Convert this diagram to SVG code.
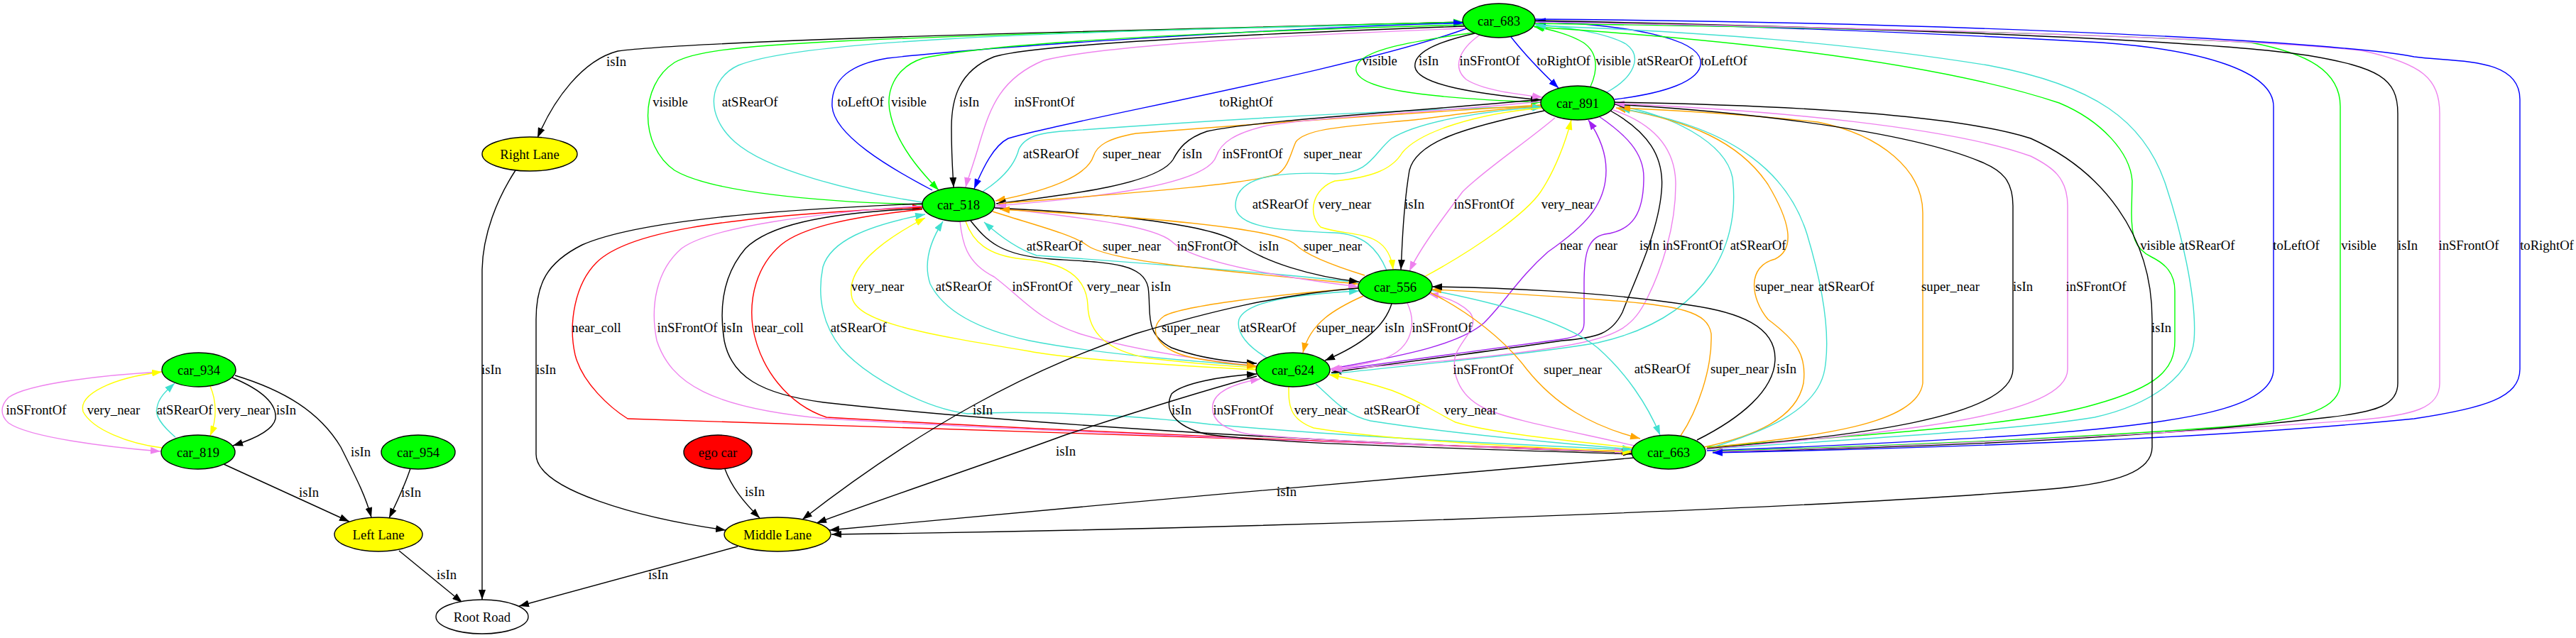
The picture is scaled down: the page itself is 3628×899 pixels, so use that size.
<svg xmlns="http://www.w3.org/2000/svg" width="3628" height="899" viewBox="0 0 3628 899">
<style>
.e{fill:none;stroke-width:1.4}
.k{stroke:#000;marker-end:url(#ak)}
.g{stroke:#00ff00;marker-end:url(#ag)}
.t{stroke:#40e0d0;marker-end:url(#at)}
.b{stroke:#0000ff;marker-end:url(#ab)}
.v{stroke:#ee82ee;marker-end:url(#av)}
.o{stroke:#ffa500;marker-end:url(#ao)}
.y{stroke:#ffff00;marker-end:url(#ay)}
.r{stroke:#ff0000;marker-end:url(#ar)}
.p{stroke:#a020f0;marker-end:url(#ap)}
ellipse{stroke:#000;stroke-width:1.4}
.car{fill:#00ff00}
.lane{fill:#ffff00}
text{font-family:"Liberation Serif","Times New Roman",serif;font-size:18.67px;text-anchor:middle;fill:#000}
</style>
<defs>
<marker id="ak" viewBox="0 0 14 10" refX="14" refY="5" markerWidth="14" markerHeight="10" markerUnits="userSpaceOnUse" orient="auto"><path d="M0,0L14,5L0,10z" fill="#000"/></marker>
<marker id="ag" viewBox="0 0 14 10" refX="14" refY="5" markerWidth="14" markerHeight="10" markerUnits="userSpaceOnUse" orient="auto"><path d="M0,0L14,5L0,10z" fill="#00ff00"/></marker>
<marker id="at" viewBox="0 0 14 10" refX="14" refY="5" markerWidth="14" markerHeight="10" markerUnits="userSpaceOnUse" orient="auto"><path d="M0,0L14,5L0,10z" fill="#40e0d0"/></marker>
<marker id="ab" viewBox="0 0 14 10" refX="14" refY="5" markerWidth="14" markerHeight="10" markerUnits="userSpaceOnUse" orient="auto"><path d="M0,0L14,5L0,10z" fill="#0000ff"/></marker>
<marker id="av" viewBox="0 0 14 10" refX="14" refY="5" markerWidth="14" markerHeight="10" markerUnits="userSpaceOnUse" orient="auto"><path d="M0,0L14,5L0,10z" fill="#ee82ee"/></marker>
<marker id="ao" viewBox="0 0 14 10" refX="14" refY="5" markerWidth="14" markerHeight="10" markerUnits="userSpaceOnUse" orient="auto"><path d="M0,0L14,5L0,10z" fill="#ffa500"/></marker>
<marker id="ay" viewBox="0 0 14 10" refX="14" refY="5" markerWidth="14" markerHeight="10" markerUnits="userSpaceOnUse" orient="auto"><path d="M0,0L14,5L0,10z" fill="#ffff00"/></marker>
<marker id="ar" viewBox="0 0 14 10" refX="14" refY="5" markerWidth="14" markerHeight="10" markerUnits="userSpaceOnUse" orient="auto"><path d="M0,0L14,5L0,10z" fill="#ff0000"/></marker>
<marker id="ap" viewBox="0 0 14 10" refX="14" refY="5" markerWidth="14" markerHeight="10" markerUnits="userSpaceOnUse" orient="auto"><path d="M0,0L14,5L0,10z" fill="#a020f0"/></marker>
</defs>
<rect width="3628" height="899" fill="#fff"/>
<g id="connectors">
<path class="e k" d="M2060,31 C1700,40 1000,55 870,72 C820,85 780,140 757,194"/>
<path class="e g" d="M1300,288 C1150,285 1000,270 950,240 C900,205 900,120 950,88 C1000,60 1150,55 2061,31"/>
<path class="e t" d="M1299,285 C1200,270 1080,240 1035,200 C990,160 1000,110 1040,92 C1120,60 1400,45 2061,33"/>
<path class="e b" d="M1313,268 C1250,235 1175,190 1172,150 C1170,110 1200,90 1250,82 C1400,65 1800,40 2061,32"/>
<path class="e g" d="M2061,35 C1700,45 1400,60 1300,82 C1260,95 1245,130 1255,165 C1265,205 1295,240 1322,268"/>
<path class="e k" d="M2062,37 C1700,50 1450,65 1400,80 C1350,100 1340,140 1340,180 C1340,220 1342,245 1343,264"/>
<path class="e v" d="M2063,40 C1800,50 1550,65 1470,85 C1410,110 1395,150 1380,200 C1370,235 1362,255 1360,264"/>
<path class="e b" d="M2066,40 C1900,100 1500,170 1420,195 C1400,205 1385,235 1372,266"/>
<path class="e g" d="M2075,46 C1990,58 1915,70 1910,95 C1905,125 2000,138 2170,144"/>
<path class="e k" d="M2077,47 C2020,60 1990,75 1993,95 C1998,120 2080,132 2170,141"/>
<path class="e v" d="M2083,50 C2055,70 2045,95 2065,112 C2090,128 2140,133 2172,137"/>
<path class="e b" d="M2128,52 C2150,80 2175,105 2195,124"/>
<path class="e g" d="M2240,122 C2250,100 2252,75 2230,60 C2210,48 2185,42 2160,37"/>
<path class="e t" d="M2263,130 C2300,110 2315,80 2290,62 C2260,45 2200,38 2162,34"/>
<path class="e b" d="M2274,140 C2340,132 2400,115 2395,85 C2390,55 2300,35 2162,30"/>
<path class="e g" d="M2404,630 C2600,615 2850,600 2950,570 C3040,545 3063,520 3063,480 L3063,410 C3063,385 3050,372 3030,362 C3005,350 3002,330 3002,300 L3003,255 C3000,215 2960,170 2900,145 C2750,95 2500,60 2161,38"/>
<path class="e t" d="M2403,633 C2600,620 2850,605 2950,588 C3030,570 3085,530 3090,480 C3095,420 3070,320 3050,260 C3020,170 2950,120 2800,92 C2600,60 2400,45 2163,36"/>
<path class="e b" d="M2404,635 C2600,628 2850,615 2950,605 C3100,590 3202,570 3202,520 L3202,150 C3202,100 3100,70 2960,60 C2700,45 2400,35 2163,30"/>
<path class="e g" d="M2162,33 C2500,38 2900,45 3170,60 C3250,75 3296,100 3296,150 L3296,540 C3296,575 3250,590 3150,600 C2900,620 2600,630 2412,636"/>
<path class="e k" d="M2162,29 C2600,38 3100,55 3250,78 C3350,95 3377,110 3377,160 L3377,540 C3377,570 3350,580 3280,588 C3000,620 2700,630 2412,637"/>
<path class="e v" d="M2162,31 C2700,40 3200,55 3330,72 C3410,90 3436,110 3436,160 L3436,540 C3436,575 3400,585 3320,592 C3000,615 2700,628 2412,637"/>
<path class="e b" d="M2162,27 C2800,32 3300,60 3400,80 C3460,88 3549,80 3549,140 L3549,520 C3549,560 3500,575 3400,590 C3100,620 2700,632 2412,638"/>
<path class="e t" d="M1384,270 C1415,250 1430,230 1435,210 C1445,190 1470,186 1510,184 C1700,170 1950,155 2170,150"/>
<path class="e o" d="M2170,148 C1900,165 1700,180 1600,188 C1560,195 1545,205 1540,220 C1530,250 1470,270 1402,283"/>
<path class="e k" d="M2172,140 C1950,160 1770,170 1700,185 C1670,195 1660,210 1652,225 C1630,260 1500,275 1403,287"/>
<path class="e v" d="M2170,143 C2000,160 1850,165 1780,178 C1740,188 1720,200 1713,220 C1700,260 1550,278 1403,290"/>
<path class="e o" d="M1406,287 C1550,275 1750,262 1800,245 C1815,235 1818,215 1825,200 C1840,180 1900,178 2000,168 C2060,160 2120,152 2170,150"/>
<path class="e t" d="M1953,381 C1940,350 1920,330 1880,328 C1800,325 1740,320 1740,290 C1740,255 1780,240 1880,245 C1930,245 1935,215 1960,195 C2000,170 2100,155 2172,151"/>
<path class="e y" d="M2172,152 C2080,160 2000,185 1975,215 C1960,240 1930,250 1880,255 C1850,265 1840,300 1860,320 C1900,335 1955,320 1962,380"/>
<path class="e k" d="M2175,156 C2060,180 1995,200 1985,240 C1975,300 1975,350 1973,380"/>
<path class="e v" d="M2190,166 C2150,200 2090,240 2060,270 C2030,310 2000,350 1985,382"/>
<path class="e y" d="M2006,390 C2080,350 2150,300 2170,270 C2190,240 2205,200 2213,169"/>
<path class="e p" d="M1874,520 C1950,505 2050,490 2090,455 C2120,425 2140,390 2180,355 C2230,320 2262,290 2262,240 C2262,210 2248,185 2237,169"/>
<path class="e p" d="M2252,164 C2290,190 2315,215 2315,250 C2315,300 2300,325 2260,330 C2235,335 2231,360 2231,400 L2231,455 C2231,470 2220,475 2200,478 C2100,492 1960,510 1876,522"/>
<path class="e k" d="M2268,156 C2320,185 2345,220 2340,270 C2335,330 2300,400 2285,440 C2270,470 2250,476 2200,480 C2100,495 1960,512 1875,525"/>
<path class="e v" d="M2272,155 C2330,175 2360,210 2360,260 C2360,320 2340,380 2320,420 C2300,460 2280,475 2200,488 C2100,505 1960,515 1876,521"/>
<path class="e t" d="M1875,527 C1980,515 2150,500 2250,483 C2330,465 2380,430 2410,385 C2440,340 2445,290 2440,250 C2430,200 2350,160 2281,150"/>
<path class="e o" d="M2400,630 C2470,615 2530,590 2540,540 C2545,500 2530,480 2490,450 C2465,420 2460,375 2500,365 C2530,350 2520,310 2490,260 C2450,200 2380,170 2276,152"/>
<path class="e t" d="M2403,633 C2480,610 2560,580 2570,520 C2580,460 2560,380 2545,330 C2520,250 2450,180 2282,153"/>
<path class="e o" d="M2404,631 C2550,615 2700,600 2708,540 L2708,300 C2708,240 2650,190 2560,172 C2450,160 2350,155 2282,152"/>
<path class="e k" d="M2404,632 C2600,615 2835,590 2835,520 L2835,290 C2835,255 2820,240 2790,228 C2700,190 2500,160 2274,147"/>
<path class="e v" d="M2404,633 C2650,610 2912,590 2912,520 L2912,290 C2912,250 2890,235 2860,220 C2750,180 2500,155 2274,146"/>
<path class="e k" d="M2274,144 C2500,148 2750,160 2860,195 C2960,240 3031,330 3031,450 L3031,630 C3031,665 2980,680 2900,688 C2600,715 1800,745 1171,753"/>
<path class="e t" d="M1913,398 C1800,385 1600,370 1460,360 C1430,350 1405,330 1386,313"/>
<path class="e o" d="M1398,298 C1450,315 1510,330 1530,345 C1560,368 1700,380 1913,400"/>
<path class="e v" d="M1401,292 C1500,305 1620,315 1650,340 C1680,370 1800,390 1913,404"/>
<path class="e k" d="M1401,293 C1550,300 1700,315 1740,340 C1780,370 1850,390 1914,397"/>
<path class="e o" d="M1922,388 C1880,375 1840,360 1825,345 C1800,320 1600,305 1408,295"/>
<path class="e t" d="M1770,516 C1700,510 1550,500 1450,480 C1380,465 1330,440 1310,400 C1300,370 1310,340 1328,312"/>
<path class="e v" d="M1352,312 C1355,340 1360,370 1400,390 C1440,420 1460,450 1520,470 C1600,495 1700,508 1770,516"/>
<path class="e y" d="M1360,312 C1370,340 1390,360 1440,365 C1500,370 1530,390 1532,430 C1533,470 1560,495 1620,505 C1680,512 1730,516 1770,518"/>
<path class="e k" d="M1367,311 C1390,340 1410,360 1480,365 C1560,370 1610,370 1617,405 C1622,440 1610,470 1650,490 C1690,505 1730,510 1770,512"/>
<path class="e y" d="M1770,521 C1650,515 1500,505 1450,495 C1300,470 1210,455 1200,420 C1190,380 1240,340 1303,307"/>
<path class="e t" d="M2300,634 C2100,625 1900,615 1705,598 C1600,585 1450,578 1363,583 C1300,575 1220,530 1185,491 C1160,460 1150,420 1159,376 C1170,340 1220,318 1303,302"/>
<path class="e r" d="M2298,636 C1800,620 1200,600 884,590 C860,575 820,540 810,500 C800,455 810,400 840,370 C880,330 1000,305 1299,292"/>
<path class="e k" d="M1299,294 C1150,300 1080,320 1050,350 C1020,385 1012,430 1020,480 C1030,530 1070,555 1160,567 C1500,605 2000,628 2300,638"/>
<path class="e r" d="M1299,295 C1200,305 1130,320 1100,345 C1065,375 1055,420 1060,460 C1070,520 1110,570 1164,588 C1500,608 2000,628 2298,637"/>
<path class="e v" d="M1299,290 C1150,300 1000,320 960,350 C925,380 915,430 925,480 C945,540 1000,575 1164,590 C1500,610 2000,628 2288,636"/>
<path class="e k" d="M1299,287 C1100,295 900,310 820,345 C770,370 755,400 755,450 L755,640 C755,690 900,730 1022,747"/>
<path class="e o" d="M1913,406 C1800,415 1670,430 1640,445 C1615,462 1625,495 1690,506 C1720,511 1745,514 1770,516"/>
<path class="e t" d="M1784,504 C1760,490 1740,470 1745,450 C1755,425 1820,415 1914,410"/>
<path class="e o" d="M1920,417 C1880,435 1845,455 1835,497"/>
<path class="e k" d="M1960,428 C1950,460 1920,485 1866,508"/>
<path class="e v" d="M1982,427 C1995,455 1990,490 1950,505 C1920,515 1895,518 1873,520"/>
<path class="e v" d="M2302,628 C2200,605 2120,590 2090,575 C2050,555 2045,520 2050,500 C2060,475 2085,460 2070,440 C2055,425 2035,418 2012,414"/>
<path class="e o" d="M2014,412 C2070,440 2120,480 2150,520 C2190,570 2240,600 2310,618"/>
<path class="e t" d="M2015,409 C2100,425 2200,450 2250,490 C2290,525 2320,570 2338,613"/>
<path class="e o" d="M2367,614 C2390,580 2412,520 2410,470 C2405,440 2370,430 2250,422 C2150,415 2070,410 2016,408"/>
<path class="e k" d="M2390,620 C2450,590 2500,550 2500,505 C2500,460 2450,440 2380,430 C2250,410 2100,405 2017,404"/>
<path class="e k" d="M2299,640 C2000,630 1800,625 1700,612 C1650,600 1640,575 1650,555 C1665,540 1720,530 1770,527"/>
<path class="e v" d="M2299,637 C2000,628 1850,620 1760,612 C1720,605 1705,590 1708,570 C1712,550 1740,540 1775,534"/>
<path class="e y" d="M1815,545 C1815,570 1815,590 1850,603 C1950,620 2150,630 2299,637"/>
<path class="e t" d="M1853,541 C1880,565 1895,585 1930,593 C2050,612 2200,625 2299,633"/>
<path class="e y" d="M2300,631 C2200,620 2100,610 2050,595 C2020,580 2000,565 1960,550 C1930,540 1900,533 1872,528"/>
<path class="e k" d="M1913,406 C1800,415 1700,440 1600,470 C1450,520 1300,600 1130,732"/>
<path class="e k" d="M1770,530 C1680,555 1600,580 1500,613 C1400,650 1250,700 1150,737"/>
<path class="e k" d="M2302,645 C2000,670 1500,716 1168,747"/>
<path class="e k" d="M1021,661 C1030,685 1045,705 1070,730"/>
<path class="e k" d="M1039,770 L731,854"/>
<path class="e k" d="M726,240 C700,280 680,330 679,380 L679,845"/>
<path class="e k" d="M562,776 L651,849"/>
<path class="e v" d="M228,524 C150,528 40,540 12,560 C0,572 0,585 12,596 C40,616 150,630 226,636"/>
<path class="e y" d="M228,631 C180,625 130,605 117,580 C110,555 160,532 228,524"/>
<path class="e t" d="M247,616 C228,600 218,585 221,575 C223,560 235,550 246,540"/>
<path class="e y" d="M296,544 C305,565 306,590 296,614"/>
<path class="e k" d="M327,532 C370,550 390,570 388,590 C385,605 360,618 328,628"/>
<path class="e k" d="M331,529 C400,550 450,580 480,630 C505,680 515,700 523,729"/>
<path class="e k" d="M315,654 L492,735"/>
<path class="e k" d="M578,660 C570,685 560,705 548,730"/>
<g id="edge-labels">
<text x="868" y="93">isIn</text>
<text x="944" y="150">visible</text>
<text x="1056" y="150">atSRearOf</text>
<text x="1212" y="150">toLeftOf</text>
<text x="1280" y="150">visible</text>
<text x="1365" y="150">isIn</text>
<text x="1471" y="150">inSFrontOf</text>
<text x="1755" y="150">toRightOf</text>
<text x="1943" y="92">visible</text>
<text x="2012" y="92">isIn</text>
<text x="2098" y="92">inSFrontOf</text>
<text x="2202" y="92">toRightOf</text>
<text x="2272" y="92">visible</text>
<text x="2345" y="92">atSRearOf</text>
<text x="2428" y="92">toLeftOf</text>
<text x="1480" y="223">atSRearOf</text>
<text x="1594" y="223">super_near</text>
<text x="1679" y="223">isIn</text>
<text x="1764" y="223">inSFrontOf</text>
<text x="1877" y="223">super_near</text>
<text x="1803" y="294">atSRearOf</text>
<text x="1894" y="294">very_near</text>
<text x="1992" y="294">isIn</text>
<text x="2090" y="294">inSFrontOf</text>
<text x="2208" y="294">very_near</text>
<text x="1485" y="353">atSRearOf</text>
<text x="1594" y="353">super_near</text>
<text x="1700" y="353">inSFrontOf</text>
<text x="1787" y="353">isIn</text>
<text x="1877" y="353">super_near</text>
<text x="2213" y="352">near</text>
<text x="2262" y="352">near</text>
<text x="2323" y="352">isIn</text>
<text x="2384" y="352">inSFrontOf</text>
<text x="2476" y="352">atSRearOf</text>
<text x="3039" y="352">visible</text>
<text x="3108" y="352">atSRearOf</text>
<text x="3234" y="352">toLeftOf</text>
<text x="3322" y="352">visible</text>
<text x="3391" y="352">isIn</text>
<text x="3477" y="352">inSFrontOf</text>
<text x="3587" y="352">toRightOf</text>
<text x="1236" y="410">very_near</text>
<text x="1357" y="410">atSRearOf</text>
<text x="1468" y="410">inSFrontOf</text>
<text x="1568" y="410">very_near</text>
<text x="1635" y="410">isIn</text>
<text x="2513" y="410">super_near</text>
<text x="2600" y="410">atSRearOf</text>
<text x="2747" y="410">super_near</text>
<text x="2849" y="410">isIn</text>
<text x="2952" y="410">inSFrontOf</text>
<text x="840" y="468">near_coll</text>
<text x="968" y="468">inSFrontOf</text>
<text x="1032" y="468">isIn</text>
<text x="1097" y="468">near_coll</text>
<text x="1209" y="468">atSRearOf</text>
<text x="1677" y="468">super_near</text>
<text x="1786" y="468">atSRearOf</text>
<text x="1895" y="468">super_near</text>
<text x="1964" y="468">isIn</text>
<text x="2031" y="468">inSFrontOf</text>
<text x="3044" y="468">isIn</text>
<text x="769" y="527">isIn</text>
<text x="692" y="527">isIn</text>
<text x="2089" y="527">inSFrontOf</text>
<text x="2215" y="527">super_near</text>
<text x="2341" y="526">atSRearOf</text>
<text x="2450" y="526">super_near</text>
<text x="2516" y="526">isIn</text>
<text x="51" y="584">inSFrontOf</text>
<text x="160" y="584">very_near</text>
<text x="260" y="584">atSRearOf</text>
<text x="343" y="584">very_near</text>
<text x="403" y="584">isIn</text>
<text x="1384" y="584">isIn</text>
<text x="1664" y="584">isIn</text>
<text x="1751" y="584">inSFrontOf</text>
<text x="1860" y="584">very_near</text>
<text x="1960" y="584">atSRearOf</text>
<text x="2071" y="584">very_near</text>
<text x="508" y="643">isIn</text>
<text x="1501" y="642">isIn</text>
<text x="435" y="700">isIn</text>
<text x="579" y="700">isIn</text>
<text x="1063" y="699">isIn</text>
<text x="1812" y="699">isIn</text>
<text x="629" y="816">isIn</text>
<text x="927" y="816">isIn</text>
</g>
</g>
<g id="car_683"><ellipse class="car" cx="2111" cy="29" rx="51" ry="24"/><text x="2111" y="35.5">car_683</text></g>
<g id="car_891"><ellipse class="car" cx="2222" cy="145" rx="52" ry="24"/><text x="2222" y="151.5">car_891</text></g>
<g id="car_518"><ellipse class="car" cx="1350" cy="288" rx="51" ry="24"/><text x="1350" y="294.5">car_518</text></g>
<g id="car_556"><ellipse class="car" cx="1965" cy="404" rx="52" ry="24"/><text x="1965" y="410.5">car_556</text></g>
<g id="car_624"><ellipse class="car" cx="1821" cy="521" rx="52" ry="24"/><text x="1821" y="527.5">car_624</text></g>
<g id="car_663"><ellipse class="car" cx="2350" cy="637" rx="52" ry="24"/><text x="2350" y="643.5">car_663</text></g>
<g id="car_934"><ellipse class="car" cx="280" cy="521" rx="52" ry="24"/><text x="280" y="527.5">car_934</text></g>
<g id="car_819"><ellipse class="car" cx="279" cy="637" rx="52" ry="24"/><text x="279" y="643.5">car_819</text></g>
<g id="car_954"><ellipse class="car" cx="589" cy="637" rx="52" ry="24"/><text x="589" y="643.5">car_954</text></g>
<g id="ego_car"><ellipse cx="1011" cy="637" rx="48" ry="24" fill="#ff0000"/><text x="1011" y="643.5">ego car</text></g>
<g id="right_lane"><ellipse class="lane" cx="746" cy="217" rx="67" ry="24"/><text x="746" y="223.5">Right Lane</text></g>
<g id="left_lane"><ellipse class="lane" cx="533" cy="753" rx="62" ry="24"/><text x="533" y="759.5">Left Lane</text></g>
<g id="middle_lane"><ellipse class="lane" cx="1095" cy="753" rx="75" ry="24"/><text x="1095" y="759.5">Middle Lane</text></g>
<g id="root_road"><ellipse cx="679" cy="869" rx="65" ry="24" fill="#fff"/><text x="679" y="875.5">Root Road</text></g>
</svg>
